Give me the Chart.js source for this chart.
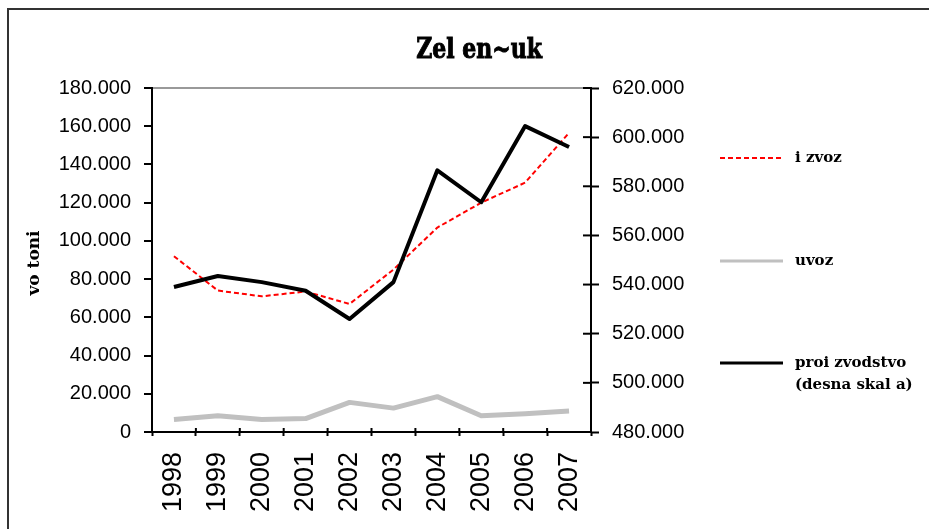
<!DOCTYPE html>
<html>
<head>
<meta charset="utf-8">
<script src="https://cdn.jsdelivr.net/npm/chart.js@4/dist/chart.umd.min.js"></script>
<style>
  html, body { margin: 0; padding: 0; background: #fff; }
  #wrap { width: 929px; height: 529px; }
</style>
</head>
<body>
<div id="wrap"><canvas id="zelenChart" width="929" height="529"></canvas></div>
<script>
const TITLE = "Zel en~uk";
const Y_TITLE = "vo toni";
const years = ["1998", "1999", "2000", "2001", "2002", "2003", "2004", "2005", "2006", "2007"];
const izvoz = [92000, 74000, 71000, 73500, 67000, 85000, 107000, 120000, 130500, 156500];
const uvoz = [6500, 8500, 6500, 7000, 15500, 12500, 18500, 8500, 9500, 11000];
const proizvodstvo = [539000, 543500, 541000, 537500, 526000, 541000, 586500, 573500, 604500, 596000];
const legendLabels = [["i zvoz"], ["uvoz"], ["proi zvodstvo", "(desna skal a)"]];

// brojki so tocka za iljadi: 180.000
function fmt(v) {
      return v.toLocaleString("de-DE");
}

// --- ramka, naslov, legenda ---
const decor = {
      id: "decor",
      beforeDraw(chart) {
            const c = chart.ctx;
            c.save();
            c.fillStyle = "#fff";
            c.fillRect(0, 0, chart.width, chart.height);
            c.strokeStyle = "#333";
            c.lineWidth = 2;
            c.beginPath();
            c.moveTo(8, chart.height);
            c.lineTo(8, 9);
            c.lineTo(chart.width, 9);
            c.stroke();
            c.restore();
      },
      afterDraw(chart) {
            const c = chart.ctx;
            const area = chart.chartArea;
            c.save();

            // naslov
            c.fillStyle = "#000";
            c.strokeStyle = "#000";
            c.textAlign = "center";
            c.textBaseline = "alphabetic";
            c.font = "bold 22px 'DejaVu Serif'";
            c.translate(479, 58);
            c.scale(1, 1.28);
            c.lineWidth = 0.8;
            c.fillText(TITLE, 0, 0);
            c.strokeText(TITLE, 0, 0);
            c.setTransform(1, 0, 0, 1, 0, 0);

            // naslov na y oska
            c.font = "bold 17px 'DejaVu Serif'";
            c.textBaseline = "middle";
            c.translate(35, 263);
            c.rotate(-Math.PI / 2);
            c.fillText(Y_TITLE, 0, 0);
            c.setTransform(1, 0, 0, 1, 0, 0);

            // vnatresni crticki
            const y1 = chart.scales.y1;
            c.strokeStyle = "#000";
            c.lineWidth = 2;
            y1.ticks.forEach((t, i) => {
                  const py = y1.getPixelForTick(i);
                  c.beginPath();
                  c.moveTo(area.right - 8, py);
                  c.lineTo(area.right, py);
                  c.stroke();
            });
            const x = chart.scales.x;
            for (let i = 0; i <= years.length; i++) {
                  const px = x.left + (x.width / years.length) * i;
                  c.beginPath();
                  c.moveTo(px, area.bottom - 4);
                  c.lineTo(px, area.bottom);
                  c.stroke();
            }

            // legenda
            const rows = [158, 261, 363];
            c.font = "bold 15px 'DejaVu Serif'";
            c.textAlign = "left";
            c.textBaseline = "middle";
            chart.data.datasets.forEach((ds, i) => {
                  const y = rows[i];
                  c.strokeStyle = ds.borderColor;
                  c.lineWidth = ds.borderDash ? 2 : 3;
                  c.setLineDash(ds.borderDash || []);
                  c.beginPath();
                  c.moveTo(720, y);
                  c.lineTo(783, y);
                  c.stroke();
                  c.setLineDash([]);
                  c.fillStyle = "#000";
                  legendLabels[i].forEach((line, j) => {
                        c.fillText(line, 795, y + j * 22);
                  });
            });
            c.restore();
      },
};

const ctx = document.getElementById("zelenChart");

new Chart(ctx, {
      type: "line",
      data: {
            labels: years,
            datasets: [
                  {
                        label: "i zvoz",
                        data: izvoz,
                        yAxisID: "y",
                        borderColor: "#ff0000",
                        borderWidth: 2,
                        borderDash: [5, 3],
                        order: 1,
                  },
                  {
                        label: "uvoz",
                        data: uvoz,
                        yAxisID: "y",
                        borderColor: "#c0c0c0",
                        borderWidth: 5,
                        order: 2,
                  },
                  {
                        label: "proi zvodstvo (desna skal a)",
                        data: proizvodstvo,
                        yAxisID: "y1",
                        borderColor: "#000000",
                        borderWidth: 4,
                        order: 0,
                  },
            ],
      },
      options: {
            responsive: false,
            animation: false,
            devicePixelRatio: 1,
            layout: { padding: { top: 88, left: 0, right: 0, bottom: 0 } },
            elements: {
                  point: { radius: 0 },
                  line: { tension: 0, borderJoinStyle: "round", fill: false },
            },
            plugins: {
                  legend: { display: false },
                  title: { display: false },
                  tooltip: { enabled: false },
            },
            scales: {
                  x: {
                        offset: true,
                        afterFit: (s) => { s.height = 97; },
                        grid: {
                              offset: true,
                              drawOnChartArea: false,
                              tickLength: 4,
                              tickColor: "#000",
                              tickWidth: 2,
                        },
                        border: { color: "#000", width: 2 },
                        ticks: {
                              autoSkip: false,
                              minRotation: 90,
                              maxRotation: 90,
                              padding: 16,
                              color: "#000",
                              font: { family: "'Liberation Sans', Arial", size: 27 },
                        },
                  },
                  y: {
                        position: "left",
                        min: 0,
                        max: 180000,
                        afterFit: (s) => { s.width = 152; },
                        grid: {
                              color: (c) => (c.tick && c.tick.value === 180000 ? "#999" : "rgba(0,0,0,0)"),
                              lineWidth: 2,
                              tickColor: "#000",
                              tickWidth: 2,
                              tickLength: 8,
                        },
                        border: { color: "#000", width: 2 },
                        ticks: {
                              stepSize: 20000,
                              padding: 13,
                              color: "#000",
                              font: { family: "'Liberation Sans', Arial", size: 20 },
                              callback: (v) => fmt(v),
                        },
                  },
                  y1: {
                        position: "right",
                        min: 480000,
                        max: 620000,
                        afterFit: (s) => { s.width = 929 - 591; },
                        grid: {
                              drawOnChartArea: false,
                              tickColor: "#000",
                              tickWidth: 2,
                              tickLength: 8,
                        },
                        border: { color: "#000", width: 2 },
                        ticks: {
                              stepSize: 20000,
                              padding: 13,
                              color: "#000",
                              font: { family: "'Liberation Sans', Arial", size: 20 },
                              callback: (v) => fmt(v),
                        },
                  },
            },
      },
      plugins: [decor],
});
</script>
</body>
</html>
